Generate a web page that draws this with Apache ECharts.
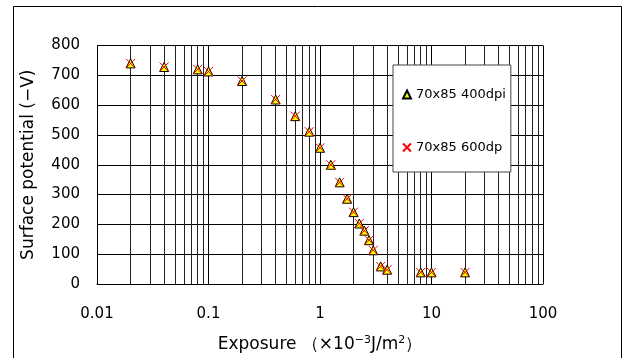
<!DOCTYPE html>
<html><head><meta charset="utf-8">
<script src="https://cdn.jsdelivr.net/npm/echarts@6/dist/echarts.min.js"></script>
<style>html,body{margin:0;padding:0;background:#fff}#c{width:623px;height:358px}</style>
</head><body><div id="c"></div>
<script>
var exposure = [0.02,0.04,0.08,0.1,0.2,0.4,0.6,0.8,1.0,1.25,1.5,1.75,2.0,2.25,2.5,2.75,3.0,3.5,4.0,8,10,20];
var pot400 = [740,728,720,713,681,619,563,511,457,400,341,286,241,203,179,147,113,59,48,39,39,39];
var pot600 = [740,728,720,713,681,619,563,511,457,400,341,286,241,203,179,147,113,59,48,39,39,39];
var seriesNames = ['70x85 400dpi','70x85 600dp'];
var font = 'DejaVu Sans, Liberation Sans, sans-serif';
function pairs(xs, ys){ return xs.map(function(x,i){return [x, ys[i]];}); }
var chart = echarts.init(document.getElementById('c'));
chart.setOption({
  animation:false,
  backgroundColor:'#fff',
  graphic:[{type:'rect',shape:{x:13.5,y:6.5,width:608,height:360},style:{fill:'none',stroke:'#000',lineWidth:1},silent:true}],
  grid:{left:97,right:80,top:45.5,bottom:73},
  legend:{
    orient:'vertical', left:393, top:65,
    padding:[23,5,18,9], itemGap:40, itemWidth:8, itemHeight:8,
    backgroundColor:'#fff', borderColor:'#444', borderWidth:1,
    textStyle:{fontFamily:font,fontSize:13,color:'#000'},
    data:[{name:seriesNames[0]},{name:seriesNames[1]}]
  },
  xAxis:{
    type:'log', logBase:10, min:0.01, max:100,
    axisLine:{show:true,onZero:false,lineStyle:{color:'#000',width:1}},
    axisTick:{show:false},
    axisLabel:{fontFamily:font,fontSize:15,color:'#000',margin:23,formatter:function(v){return String(v);}},
    splitLine:{show:true,lineStyle:{color:'#000',width:1}},
    minorTick:{show:false,splitNumber:9},
    minorSplitLine:{show:true,lineStyle:{color:'#222',width:1}},
    name:'Exposure \uFF08\u00D710{s|\u22123}J/m{s|2}\uFF09',
    nameLocation:'middle', nameGap:51,
    nameTextStyle:{fontFamily:font,fontSize:17,color:'#000',rich:{s:{fontFamily:font,fontSize:11,color:'#000',verticalAlign:'top',padding:[0,0,8,0]}}}
  },
  yAxis:{
    type:'value', min:0, max:800, interval:100,
    axisLine:{show:true,lineStyle:{color:'#000',width:1}},
    axisTick:{show:false},
    axisLabel:{fontFamily:font,fontSize:15,color:'#000',margin:17},
    splitLine:{show:true,lineStyle:{color:'#000',width:1}},
    name:'Surface potential (\u2212V)', nameLocation:'middle', nameGap:60,
    nameTextStyle:{fontFamily:font,fontSize:17,color:'#000'}
  },
  series:[
    {name:seriesNames[0],type:'scatter',data:pairs(exposure,pot400),symbol:'triangle',symbolSize:9,
     itemStyle:{color:'#ffff00',borderColor:'#000',borderWidth:1,opacity:1}},
    {name:seriesNames[1],type:'scatter',data:pairs(exposure,pot600),
     symbol:'path://M0,0L10,10M10,0L0,10',symbolSize:9,
     itemStyle:{color:'rgba(0,0,0,0)',borderColor:'#ff0000',borderWidth:1,opacity:1}}
  ]
});
</script></body></html>
